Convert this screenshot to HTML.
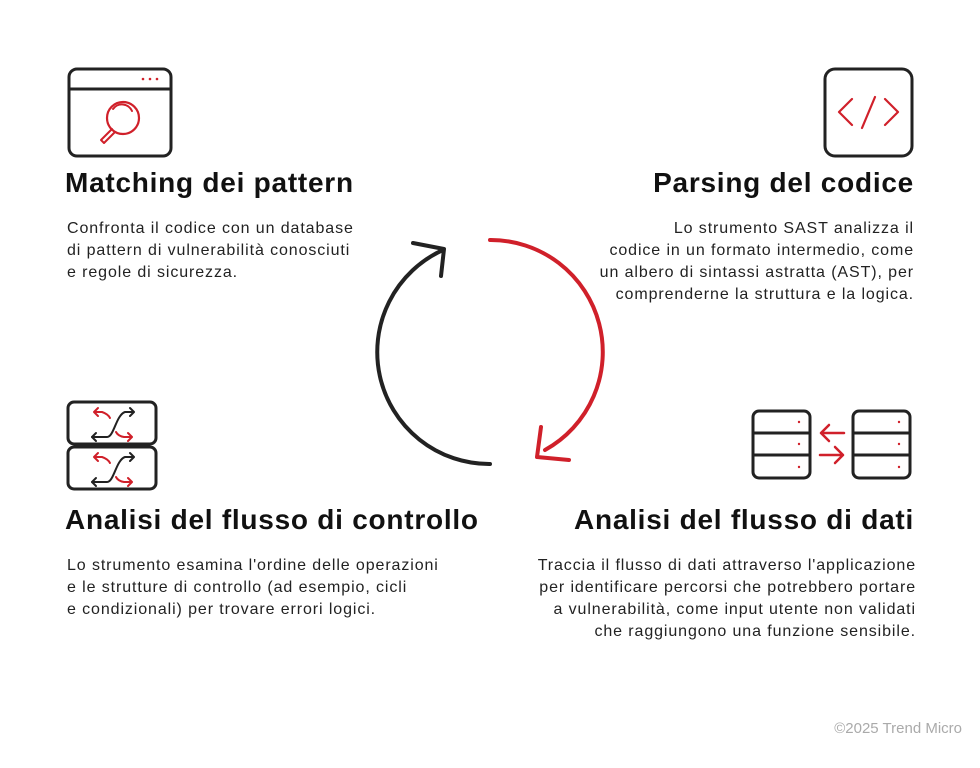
<!DOCTYPE html>
<html><head><meta charset="utf-8"><style>
body{margin:0;width:980px;height:768px;background:#fff;font-family:"Liberation Sans",sans-serif;color:#111;position:relative;overflow:hidden}
.h{position:absolute;font-weight:bold;font-size:28px;letter-spacing:0.75px;white-space:nowrap}
.p{position:absolute;font-size:16px;line-height:22px;color:#222;white-space:nowrap;letter-spacing:0.9px}
.r{text-align:right}
</style></head><body>
<svg width="980" height="768" style="position:absolute;left:0;top:0" fill="none" stroke-linecap="round" stroke-linejoin="round">
<rect x="69" y="69" width="102" height="87" rx="8" stroke="#222" stroke-width="3"/>
<line x1="69" y1="89" x2="171" y2="89" stroke="#222" stroke-width="3"/>
<g fill="#d0202a" stroke="none"><circle cx="143" cy="79" r="1.3"/><circle cx="150" cy="79" r="1.3"/><circle cx="157" cy="79" r="1.3"/></g>
<circle cx="123" cy="118" r="16" stroke="#d0202a" stroke-width="2.2"/>
<path d="M113 109 A11 11 0 0 1 132 111" stroke="#d0202a" stroke-width="2"/>
<path d="M112 129 L101 140 L104 143 L115 132" stroke="#d0202a" stroke-width="2"/>
<rect x="825" y="69" width="87" height="87" rx="10" stroke="#222" stroke-width="3"/>
<path d="M852 99 L839 112 L852 125 M885 99 L898 112 L885 125 M875 97 L862 128" stroke="#d0202a" stroke-width="2.2"/>
<rect x="68" y="402" width="88" height="42" rx="6" stroke="#222" stroke-width="3"/>
<rect x="68" y="447" width="88" height="42" rx="6" stroke="#222" stroke-width="3"/>
<g stroke-width="2">
<path d="M92 437 L107 437 C114 437 116 415 125 412 L134 412 M130 408 L134 412 L130 416" stroke="#222"/>
<path d="M96 433 L92 437 L96 441" stroke="#222"/>
<path d="M94 412 L102 412 Q108 414 110 418 M98 408 L94 412 L98 416" stroke="#d0202a"/>
<path d="M116 432 Q118 436 124 437 L132 437 M128 433 L132 437 L128 441" stroke="#d0202a"/>
<path d="M92 482 L107 482 C114 482 116 460 125 457 L134 457 M130 453 L134 457 L130 461" stroke="#222"/>
<path d="M96 478 L92 482 L96 486" stroke="#222"/>
<path d="M94 457 L102 457 Q108 459 110 463 M98 453 L94 457 L98 461" stroke="#d0202a"/>
<path d="M116 477 Q118 481 124 482 L132 482 M128 478 L132 482 L128 486" stroke="#d0202a"/>
</g>
<rect x="753" y="411" width="57" height="67" rx="6" stroke="#222" stroke-width="3"/>
<line x1="753" y1="433" x2="810" y2="433" stroke="#222" stroke-width="3"/>
<line x1="753" y1="455" x2="810" y2="455" stroke="#222" stroke-width="3"/>
<rect x="853" y="411" width="57" height="67" rx="6" stroke="#222" stroke-width="3"/>
<line x1="853" y1="433" x2="910" y2="433" stroke="#222" stroke-width="3"/>
<line x1="853" y1="455" x2="910" y2="455" stroke="#222" stroke-width="3"/>
<g fill="#d0202a" stroke="none"><circle cx="799" cy="422" r="1.2"/><circle cx="799" cy="444" r="1.2"/><circle cx="799" cy="467" r="1.2"/><circle cx="899" cy="422" r="1.2"/><circle cx="899" cy="444" r="1.2"/><circle cx="899" cy="467" r="1.2"/></g>
<path d="M844 433 L821 433 M829 425 L821 433 L829 441 M820 455 L843 455 M835 447 L843 455 L835 463" stroke="#d0202a" stroke-width="2.5"/>
<path d="M490 464 A112 112 0 0 1 443 250" stroke="#222" stroke-width="4"/>
<path d="M413 243 L444 249 L441 276" stroke="#222" stroke-width="4"/>
<path d="M490 240 A112 112 0 0 1 545 450" stroke="#d0202a" stroke-width="4"/>
<path d="M569 460 L537 457 L541 427" stroke="#d0202a" stroke-width="4"/>
</svg>
<div class="h" style="left:65px;top:167px">Matching dei pattern</div>
<div class="p" style="left:67px;top:218px">Confronta il codice con un database<br>di pattern di vulnerabilità conosciuti<br>e regole di sicurezza.</div>
<div class="h r" style="right:66px;top:167px">Parsing del codice</div>
<div class="p r" style="right:66px;top:218px">Lo strumento SAST analizza il<br>codice in un formato intermedio, come<br>un albero di sintassi astratta (AST), per<br>comprenderne la struttura e la logica.</div>
<div class="h" style="left:65px;top:504px">Analisi del flusso di controllo</div>
<div class="p" style="left:67px;top:555px">Lo strumento esamina l'ordine delle operazioni<br>e le strutture di controllo (ad esempio, cicli<br>e condizionali) per trovare errori logici.</div>
<div class="h r" style="right:66px;top:504px">Analisi del flusso di dati</div>
<div class="p r" style="right:64px;top:555px">Traccia il flusso di dati attraverso l'applicazione<br>per identificare percorsi che potrebbero portare<br>a vulnerabilità, come input utente non validati<br>che raggiungono una funzione sensibile.</div>
<div class="p" style="right:18px;top:718px;color:#aaa;font-size:15px;letter-spacing:0">©2025 Trend Micro</div>
</body></html>
